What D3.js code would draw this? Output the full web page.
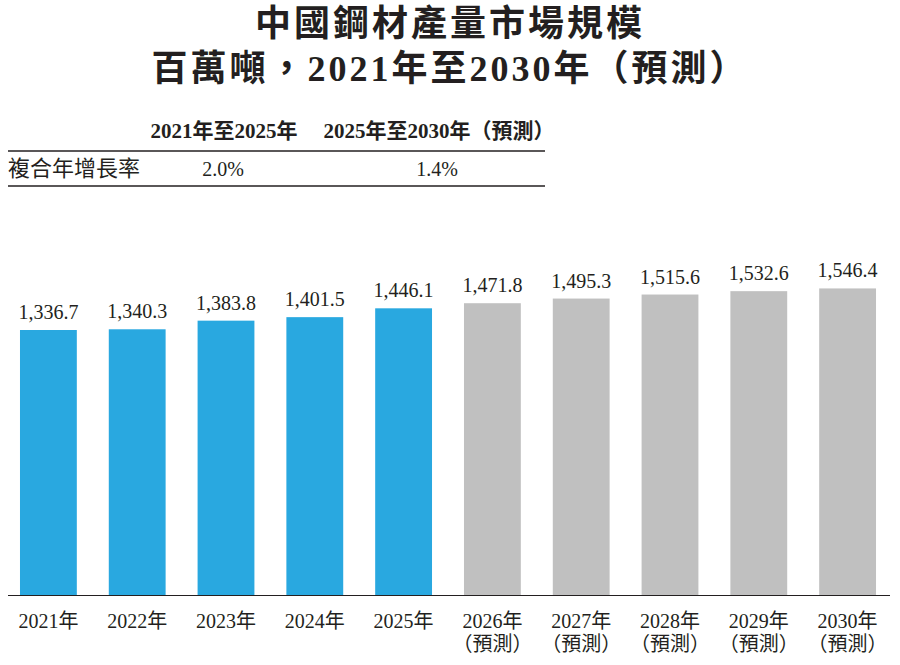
<!DOCTYPE html>
<html lang="zh-Hant">
<head>
<meta charset="UTF-8">
<style>
  body { margin: 0; background: #fff; }
  text { font-family: "Liberation Serif", "Noto Sans CJK TC", serif; fill: #231f20; }
</style>
<script src="https://d3js.org/d3.v7.min.js"></script>
</head>
<body>
<svg id="chart" width="900" height="665"></svg>
<script>
// chart data
const years = ["2021", "2022", "2023", "2024", "2025", "2026", "2027", "2028", "2029", "2030"];
const values = [1336.7, 1340.3, 1383.8, 1401.5, 1446.1, 1471.8, 1495.3, 1515.6, 1532.6, 1546.4];
const forecast = [false, false, false, false, false, true, true, true, true, true];
const titleLines = ["中國鋼材產量市場規模", "百萬噸，2021年至2030年（預測）"];
const cagrHeads = ["2021年至2025年", "2025年至2030年（預測）"];
const cagrValues = ["2.0%", "1.4%"];

const svg = d3.select("#chart");

// title
svg.selectAll(".title").data(titleLines).enter().append("text")
    .attr("x", 450).attr("y", (d, i) => 36 + i * 45)
    .attr("text-anchor", "middle")
    .style("font-size", "36px").style("font-weight", "bold")
    .style("letter-spacing", "3px")
    .text(d => d);

// CAGR table
const headX = [224, 439];
svg.selectAll(".head").data(cagrHeads).enter().append("text")
    .attr("x", (d, i) => headX[i]).attr("y", 138)
    .attr("text-anchor", "middle")
    .style("font-size", "21px").style("font-weight", "bold")
    .text(d => d);
svg.append("line").attr("x1", 8).attr("x2", 545).attr("y1", 151).attr("y2", 151)
    .attr("stroke", "#231f20").attr("stroke-width", 1.5);
svg.append("text").attr("x", 8).attr("y", 176)
    .style("font-size", "22px").text("複合年增長率");
svg.selectAll(".cagr").data(cagrValues).enter().append("text")
    .attr("x", (d, i) => [223, 437][i]).attr("y", 176)
    .attr("text-anchor", "middle").style("font-size", "20px")
    .text(d => d);
svg.append("line").attr("x1", 8).attr("x2", 545).attr("y1", 186).attr("y2", 186)
    .attr("stroke", "#231f20").attr("stroke-width", 1.5);

// bars
const x = d3.scaleBand().domain(years).range([4, 892]).paddingInner(0.36).paddingOuter(0.18);
const y = d3.scaleLinear().domain([0, 1336.7]).range([595, 330]);

svg.selectAll(".bar").data(values).enter().append("rect")
    .attr("x", (d, i) => x(years[i]))
    .attr("y", d => y(d))
    .attr("width", x.bandwidth())
    .attr("height", d => y(0) - y(d))
    .attr("fill", (d, i) => forecast[i] ? "#c0c0c0" : "#29a8e0");

svg.selectAll(".val").data(values).enter().append("text")
    .attr("x", (d, i) => x(years[i]) + x.bandwidth() / 2)
    .attr("y", d => y(d) - 11)
    .attr("text-anchor", "middle").style("font-size", "20px")
    .text(d => d3.format(",.1f")(d));

// baseline + axis labels
svg.append("line").attr("x1", 8).attr("x2", 890).attr("y1", 595.5).attr("y2", 595.5)
    .attr("stroke", "#231f20").attr("stroke-width", 1);

const labels = svg.selectAll(".xl").data(years).enter().append("text")
    .attr("x", d => x(d) + x.bandwidth() / 2)
    .attr("y", 628)
    .attr("text-anchor", "middle").style("font-size", "20px");
labels.append("tspan").text(d => d + "年");
labels.filter((d, i) => forecast[i]).append("tspan")
    .attr("x", d => x(d) + x.bandwidth() / 2).attr("dy", 23)
    .text("（預測）");
</script>
</body>
</html>
